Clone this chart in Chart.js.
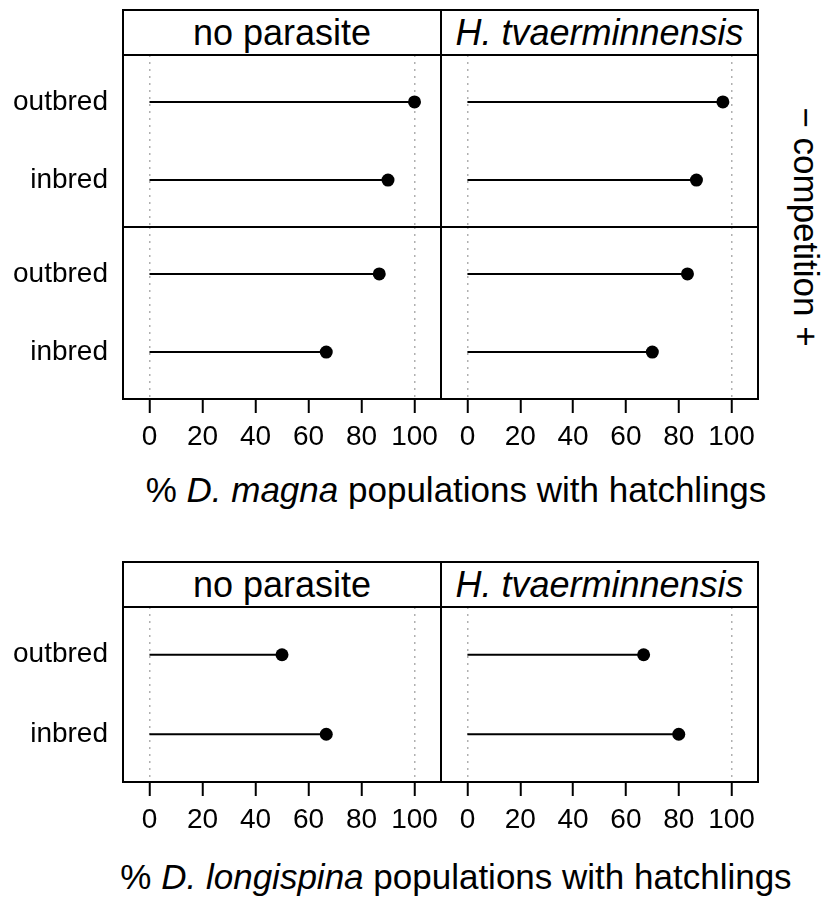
<!DOCTYPE html>
<html>
<head>
<meta charset="utf-8">
<script src="https://cdn.jsdelivr.net/npm/chart.js@4.4.0/dist/chart.umd.min.js"></script>
<style>
  body { margin: 0; background: #fff; }
  #fig { position: relative; width: 826px; height: 901px; background: #fff; overflow: hidden;
         font-family: "Liberation Sans", Arial, Helvetica, sans-serif; color: #000; }
  #fig canvas { position: absolute; }
  .strip { position: absolute; box-sizing: border-box; border: 2px solid #000; background: #fff;
           text-align: center; font-size: 36px; line-height: 43px; height: 47px; white-space: nowrap; }
  .title { position: absolute; left: 456px; transform: translateX(-50%); font-size: 35px;
           line-height: 40px; white-space: nowrap; }
  .side { position: absolute; left: 806px; top: 227px; font-size: 35px; white-space: nowrap;
          transform: translate(-50%, -50%) rotate(90deg); }
</style>
</head>
<body>
<div id="fig">
  <div class="strip" style="left:122px;top:9px;width:320px">no parasite</div>
  <div class="strip" style="left:440px;top:9px;width:319px"><i>H. tvaerminnensis</i></div>
  <div class="title" style="top:470px">% <i>D. magna</i> populations with hatchlings</div>
  <div class="side">&minus; competition +</div>

  <div class="strip" style="left:122px;top:561px;width:320px">no parasite</div>
  <div class="strip" style="left:440px;top:561px;width:319px"><i>H. tvaerminnensis</i></div>
  <div class="title" style="top:857px">% <i>D. longispina</i> populations with hatchlings</div>
</div>
<script>
// rows inside each panel (top to bottom)
const groups = ['outbred', 'inbred'];
const xTicks = [0, 20, 40, 60, 80, 100];

// D. magna, competition "-" row (top)
const magnaMinusNoParasite = [100, 90];
const magnaMinusHtv = [96.7, 86.7];
// D. magna, competition "+" row (bottom)
const magnaPlusNoParasite = [86.7, 66.7];
const magnaPlusHtv = [83.3, 70];
// D. longispina
const longispinaNoParasite = [50, 66.7];
const longispinaHtv = [66.7, 80];

const PAD = 4, YAXIS_W = 115, XAXIS_H = 60;
const fig = document.getElementById('fig');

// black box round each panel
const frame = {
  id: 'frame',
  afterDatasetsDraw(chart) {
    const { ctx, chartArea: a } = chart;
    ctx.save();
    ctx.strokeStyle = '#000';
    ctx.lineWidth = 2;
    ctx.strokeRect(a.left, a.top, a.right - a.left, a.bottom - a.top);
    ctx.restore();
  }
};

function noMargins(s) {
  s.paddingTop = 0;
  s.paddingBottom = 0;
  s.paddingLeft = 0;
  s.paddingRight = 0;
}

function panel(values, x, y, w, h, showY, showX) {
  const c = document.createElement('canvas');
  const cw = w + 2 * PAD + (showY ? YAXIS_W : 0);
  const ch = h + 2 * PAD + (showX ? XAXIS_H : 0);
  c.width = cw;
  c.height = ch;
  c.style.left = (x - PAD - (showY ? YAXIS_W : 0)) + 'px';
  c.style.top = (y - PAD) + 'px';
  c.style.width = cw + 'px';
  c.style.height = ch + 'px';
  fig.appendChild(c);

  new Chart(c, {
    type: 'scatter',
    data: {
      datasets: values.map((v, i) => ({
        data: [{ x: 0, y: i + 1 }, { x: v, y: i + 1 }],
        showLine: true,
        borderColor: '#000',
        borderWidth: 2,
        pointRadius: [0, 6.5],
        pointBackgroundColor: '#000',
        pointBorderColor: '#000',
        pointBorderWidth: 0
      }))
    },
    options: {
      responsive: false,
      animation: false,
      events: [],
      layout: { padding: PAD, autoPadding: false },
      plugins: { legend: { display: false }, tooltip: { enabled: false } },
      scales: {
        x: {
          type: 'linear',
          min: -10,
          max: 110,
          afterBuildTicks: s => { s.ticks = xTicks.map(v => ({ value: v })); },
          afterFit: s => { s.height = showX ? XAXIS_H : 0; noMargins(s); },
          grid: {
            color: ctx => (ctx.tick && (ctx.tick.value === 0 || ctx.tick.value === 100)) ? '#b0b0b0' : 'rgba(0,0,0,0)',
            lineWidth: 1.5,
            drawTicks: showX,
            tickLength: 14,
            tickColor: '#000',
            tickWidth: 2
          },
          border: { display: false, dash: [2, 5] },
          ticks: {
            display: showX,
            color: '#000',
            font: { size: 28, family: '"Liberation Sans", Arial, sans-serif' },
            padding: 7,
            maxRotation: 0,
            autoSkip: false
          }
        },
        y: {
          type: 'linear',
          display: showY,
          reverse: true,
          min: 0.4,
          max: 2.6,
          afterBuildTicks: s => { s.ticks = groups.map((g, i) => ({ value: i + 1 })); },
          afterFit: s => { s.width = showY ? YAXIS_W : 0; noMargins(s); },
          grid: { display: false, drawTicks: false },
          border: { display: false },
          ticks: {
            color: '#000',
            font: { size: 28, family: '"Liberation Sans", Arial, sans-serif' },
            padding: 15,
            callback: v => groups[Math.round(v) - 1]
          }
        }
      }
    },
    plugins: [frame]
  });
}

// top figure: D. magna
panel(magnaMinusNoParasite, 123, 55, 318, 172, true, false);
panel(magnaMinusHtv, 441, 55, 317, 172, false, false);
panel(magnaPlusNoParasite, 123, 227, 318, 172, true, true);
panel(magnaPlusHtv, 441, 227, 317, 172, false, true);

// bottom figure: D. longispina
panel(longispinaNoParasite, 123, 607, 318, 175, true, true);
panel(longispinaHtv, 441, 607, 317, 175, false, true);
</script>
</body>
</html>
